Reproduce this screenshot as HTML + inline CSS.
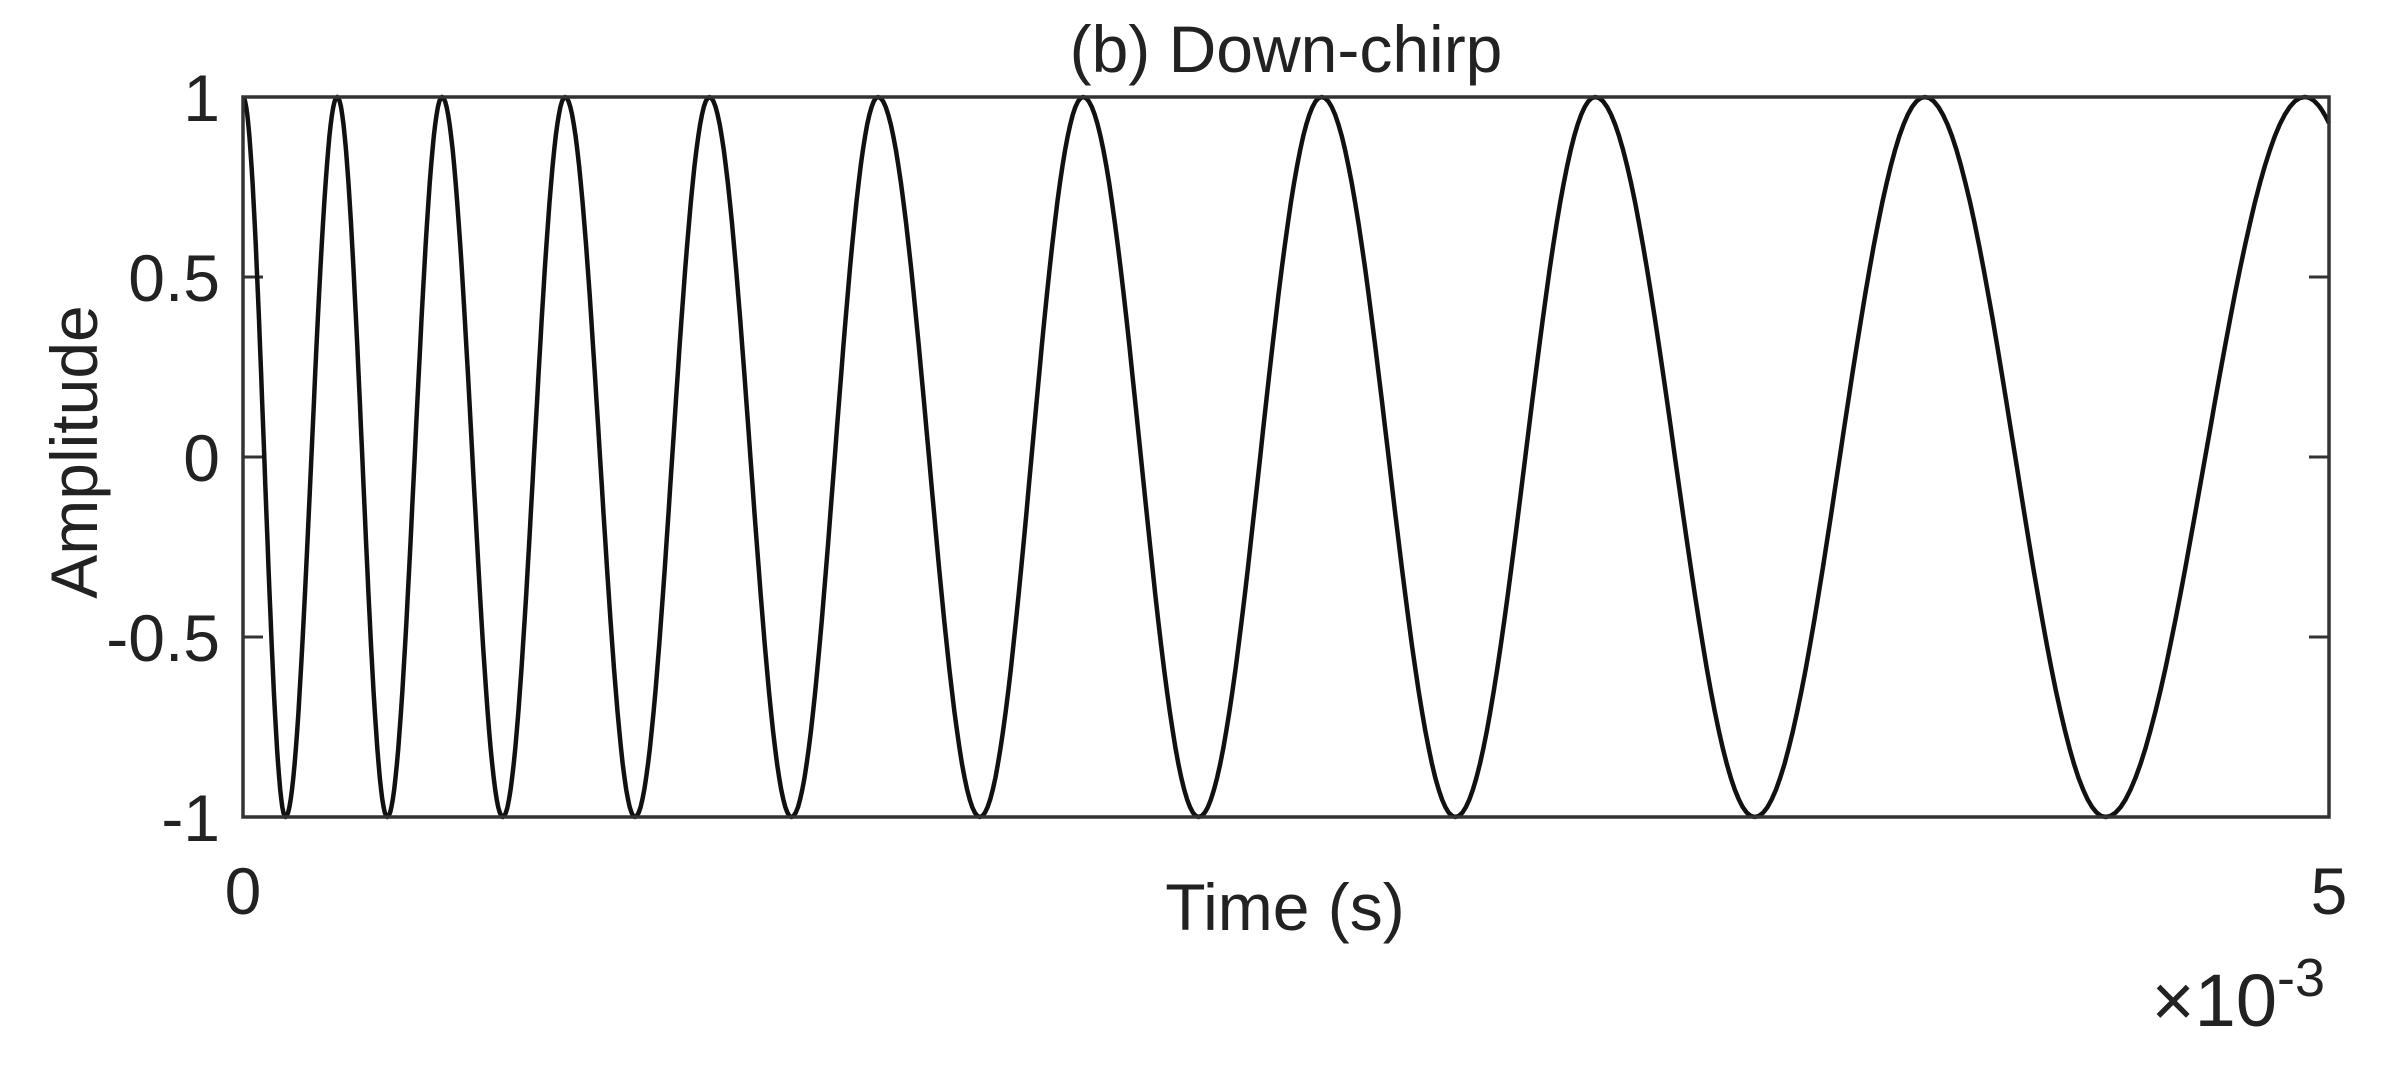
<!DOCTYPE html>
<html><head><meta charset="utf-8"><style>
html,body{margin:0;padding:0;background:#fff;}
svg{display:block;}
text{font-family:"Liberation Sans",Arial,sans-serif;fill:#222;}
</style></head><body>
<svg id="s" width="2382" height="1066" viewBox="0 0 2382 1066" xmlns="http://www.w3.org/2000/svg">
<rect width="2382" height="1066" fill="#fff"/>
<text x="1286" y="72" font-size="66" text-anchor="middle">(b) Down-chirp</text>
<g stroke="#333" stroke-width="3">
<line x1="243" y1="277" x2="263" y2="277"/><line x1="243" y1="457" x2="263" y2="457"/><line x1="243" y1="637" x2="263" y2="637"/>
<line x1="2309" y1="277" x2="2329" y2="277"/><line x1="2309" y1="457" x2="2329" y2="457"/><line x1="2309" y1="637" x2="2329" y2="637"/>
</g>
<path id="curve" d="" fill="none" stroke="#111" stroke-width="4.5" stroke-linejoin="round"/>
<rect x="243" y="97" width="2086" height="720" fill="none" stroke="#333" stroke-width="3.5"/>
<g font-size="66" text-anchor="end">
<text x="220" y="121">1</text>
<text x="220" y="301">0.5</text>
<text x="220" y="481">0</text>
<text x="220" y="661">-0.5</text>
<text x="220" y="841">-1</text>
</g>
<text x="243" y="914" font-size="66" text-anchor="middle">0</text>
<text x="2329" y="914" font-size="66" text-anchor="middle">5</text>
<text x="1285" y="930" font-size="66" text-anchor="middle">Time (s)</text>
<text x="2325" y="1026" font-size="74" text-anchor="end">×10<tspan font-size="54" dy="-30">-3</tspan></text>
<text transform="translate(97,452) rotate(-90)" font-size="66" text-anchor="middle">Amplitude</text>
</svg>
<script>
(function(){
var d=[160,188,222,255,291,331,372,418,467,521,578,645,713,789,870,958,1050,1155,1267,1386,1517];
var X=d.map(function(v){return 243+(v-160)*1.5193;});
var pts=[];
var y0=457,A=360;
for(var i=0;i<X.length-1;i++){
  var a=X[i],b=X[i+1];
  for(var k=0;k<40;k++){
    var t=k/40;var x=a+(b-a)*t;var ph=(i+t)*0.5;
    pts.push([x,y0-A*Math.cos(2*Math.PI*ph)]);
  }
}
var last=X[X.length-1],seg=X[X.length-1]-X[X.length-2];
for(var k=0;k<=20;k++){
  var x=last+(2329-last)*k/20;var ph=(X.length-1+(x-last)/seg)*0.5;
  pts.push([x,y0-A*Math.cos(2*Math.PI*ph)]);
}
var s="M"+pts.map(function(p){return p[0].toFixed(1)+","+p[1].toFixed(1);}).join(" L");
document.getElementById("curve").setAttribute("d",s);
})();
</script>
</body></html>
